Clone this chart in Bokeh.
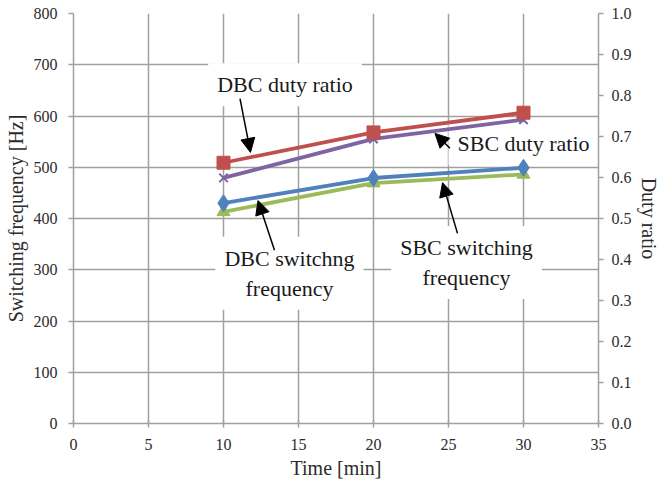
from bokeh.plotting import figure
from bokeh.models import (Range1d, LinearAxis, FixedTicker, PrintfTickFormatter,
                          Label, Arrow, NormalHead)
from bokeh.embed import file_html
from bokeh.resources import INLINE

# ---- data ----
time_min = [10, 20, 30]
dbc_freq = [430, 479, 499]          # DBC switching frequency [Hz]
sbc_freq = [413, 469, 486]          # SBC switching frequency [Hz]
dbc_duty = [0.636, 0.710, 0.758]    # DBC duty ratio
sbc_duty = [0.599, 0.694, 0.741]    # SBC duty ratio

x_ticks = [0, 5, 10, 15, 20, 25, 30, 35]
y_ticks = [0, 100, 200, 300, 400, 500, 600, 700, 800]
duty_ticks = [0.0, 0.1, 0.2, 0.3, 0.4, 0.5, 0.6, 0.7, 0.8, 0.9, 1.0]

FONT = "Liberation Serif"
GRID = "#a0a0a0"
TXT = "#2b2b2b"

RED = "#c0504d"
PURPLE = "#8064a2"
BLUE = "#4f81bd"
GREEN = "#9bbb59"

p = figure(width=662, height=485, output_backend="svg", toolbar_location=None,
           x_range=Range1d(0, 35), y_range=Range1d(0, 800),
           min_border_left=73, min_border_right=62, min_border_top=13,
           min_border_bottom=62)
p.outline_line_color = None
p.background_fill_color = "white"
p.border_fill_color = "white"

p.extra_y_ranges = {"duty": Range1d(0, 1)}


def style_axis(ax):
    ax.axis_line_color = GRID
    ax.axis_line_width = 1.5
    ax.major_tick_line_color = GRID
    ax.major_tick_line_width = 1.5
    ax.minor_tick_line_color = None
    ax.major_tick_in = 0
    ax.major_tick_out = 5
    ax.major_label_text_font = FONT
    ax.major_label_text_font_size = "16px"
    ax.major_label_text_color = TXT
    ax.axis_label_text_font = FONT
    ax.axis_label_text_font_size = "20px"
    ax.axis_label_text_font_style = "normal"
    ax.axis_label_text_color = TXT


style_axis(p.xaxis[0])
style_axis(p.yaxis[0])

p.xaxis.ticker = FixedTicker(ticks=x_ticks)
p.yaxis.ticker = FixedTicker(ticks=y_ticks)
p.xaxis.axis_label = "Time [min]"
p.yaxis.axis_label = "Switching frequency [Hz]"
p.xaxis.major_tick_in = 3
p.xaxis.major_tick_out = 4
p.xaxis.major_label_standoff = 11
p.xaxis.axis_label_standoff = 4
p.yaxis.major_label_standoff = 11
p.yaxis.axis_label_standoff = 4

right = LinearAxis(y_range_name="duty", axis_label="Duty ratio",
                   ticker=FixedTicker(ticks=duty_ticks),
                   formatter=PrintfTickFormatter(format="%.1f"))
style_axis(right)
right.major_label_standoff = 8
right.axis_label_standoff = 3
p.add_layout(right, "right")

p.xgrid.ticker = FixedTicker(ticks=x_ticks)
p.ygrid.ticker = FixedTicker(ticks=y_ticks)
p.xgrid.grid_line_color = GRID
p.ygrid.grid_line_color = GRID
p.xgrid.grid_line_width = 1.5
p.ygrid.grid_line_width = 1.5

# annotation labels (white boxes, under the series)
labels = [
    ("DBC duty ratio", 14.1, 661),
    ("SBC duty ratio", 30.0, 546),
    ("DBC switchng\nfrequency", 14.4, 293),
    ("SBC switching\nfrequency", 26.2, 314),
]
for txt, lx, ly in labels:
    p.add_layout(Label(x=lx, y=ly, text=txt, text_align="center",
                       text_baseline="middle", text_font=FONT,
                       text_font_size="22px", text_color="#1a1a1a",
                       background_fill_color="white", padding=9,
                       level="underlay"))

# series lines and markers
p.line(time_min, dbc_freq, line_color=BLUE, line_width=3.8)
p.line(time_min, sbc_freq, line_color=GREEN, line_width=3.8)
p.line(time_min, dbc_duty, line_color=RED, line_width=3.8, y_range_name="duty")
p.line(time_min, sbc_duty, line_color=PURPLE, line_width=3.8, y_range_name="duty")

p.scatter(time_min, sbc_freq, marker="triangle", size=13, fill_color=GREEN,
          line_color=GREEN)
p.scatter(time_min, dbc_freq, marker="diamond", size=17, fill_color=BLUE,
          line_color=BLUE)
p.scatter(time_min, sbc_duty, marker="x", size=12, line_color=PURPLE,
          line_width=2, y_range_name="duty")
p.scatter(time_min, dbc_duty, marker="square", size=13, fill_color=RED,
          line_color=RED, y_range_name="duty")

# arrows
arrows = [
    (11.1, 634, 11.8, 529),
    (25.1, 537, 24.1, 566),
    (13.4, 338, 12.3, 435),
    (25.6, 371, 24.6, 470),
]
for xs, ys, xe, ye in arrows:
    p.add_layout(Arrow(end=NormalHead(size=14, fill_color="black",
                                      line_color="black"),
                       x_start=xs, y_start=ys, x_end=xe, y_end=ye,
                       line_color="black", line_width=1.5))

open("out.html", "w").write(file_html(p, INLINE))
